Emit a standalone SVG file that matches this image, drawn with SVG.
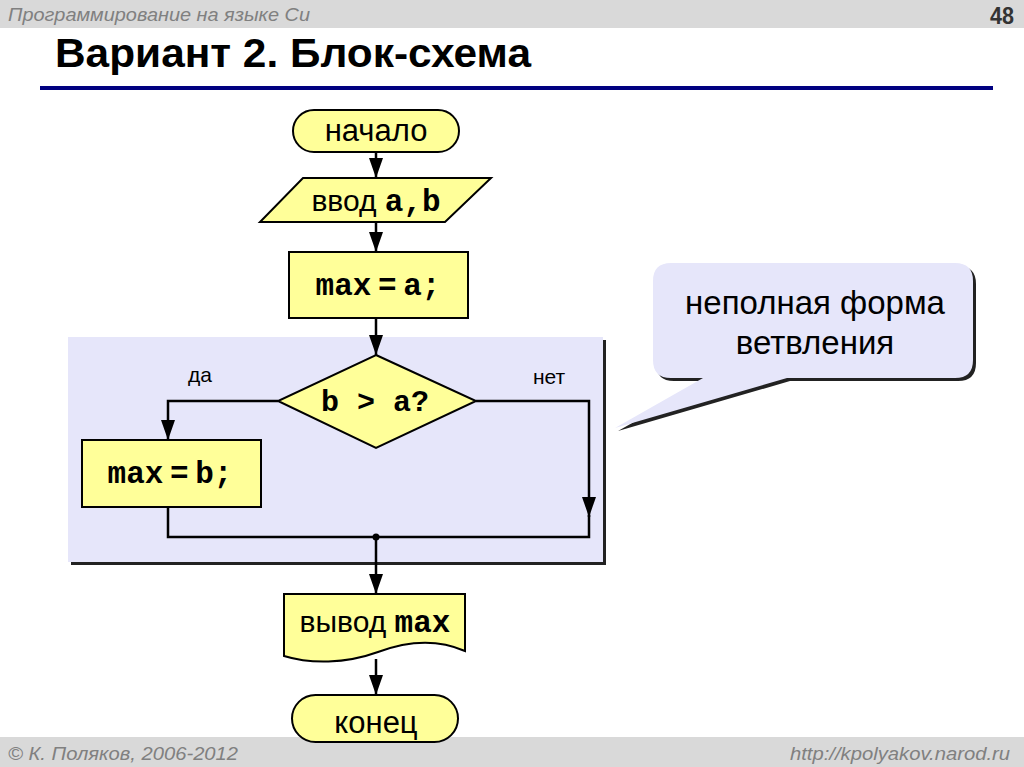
<svg xmlns="http://www.w3.org/2000/svg" width="1024" height="767" viewBox="0 0 1024 767">
<defs>
<style>
.yel{fill:#ffff99;stroke:#000;stroke-width:2}
.ln{fill:none;stroke:#000;stroke-width:2.5}
.sans{font-family:"Liberation Sans",Arial,sans-serif;fill:#000}
.mono{font-family:"Liberation Mono","Courier New",monospace;font-weight:bold;fill:#000}
.hdr{font-family:"Liberation Sans Narrow","Liberation Sans",Arial,sans-serif;font-style:italic;fill:#808080;font-size:19px}
</style>
<marker id="ah" markerWidth="20" markerHeight="14" refX="20" refY="7" orient="auto" markerUnits="userSpaceOnUse" viewBox="0 0 20 14">
<path d="M0,0 L20,7 L0,14 Z" fill="#000"/>
</marker>
</defs>
<rect width="1024" height="767" fill="#fff"/>
<rect x="0" y="0" width="1024" height="28" fill="#d9d9d9"/>
<rect x="0" y="737" width="1024" height="30" fill="#d9d9d9"/>
<text class="hdr" x="8" y="21" textLength="302" lengthAdjust="spacingAndGlyphs">Программирование на языке Си</text>
<text x="1014" y="24" text-anchor="end" font-family="Liberation Sans Narrow,Liberation Sans,Arial,sans-serif" font-weight="bold" font-size="23" fill="#333" textLength="24" lengthAdjust="spacingAndGlyphs">48</text>
<text x="55" y="67" font-family="Liberation Sans Narrow,Liberation Sans,Arial,sans-serif" font-weight="bold" font-size="40" fill="#000" textLength="476" lengthAdjust="spacingAndGlyphs">Вариант 2. Блок-схема</text>
<rect x="40" y="86" width="953" height="4" fill="#000080"/>
<text class="hdr" x="8" y="760" textLength="230" lengthAdjust="spacingAndGlyphs">© К. Поляков, 2006-2012</text>
<text class="hdr" x="790" y="760" textLength="220" lengthAdjust="spacingAndGlyphs">http://kpolyakov.narod.ru</text>

<g id="region">
<rect x="71" y="340" width="535" height="225" fill="#222"/>
<rect x="68" y="337" width="535" height="225" fill="#e6e6fa"/>
</g>

<g id="callout">
<path transform="translate(3,3)" d="M671,263 H955 Q973,263 973,281 V360 Q973,378 955,378 H787 L615,428 L703,378 H671 Q653,378 653,360 V281 Q653,263 671,263 Z" fill="#222"/>
<path d="M671,263 H955 Q973,263 973,281 V360 Q973,378 955,378 H787 L615,428 L703,378 H671 Q653,378 653,360 V281 Q653,263 671,263 Z" fill="#e6e6fa"/>
<text class="sans" x="815" y="314" font-size="33" text-anchor="middle">неполная форма</text>
<text class="sans" x="815" y="354" font-size="33" text-anchor="middle">ветвления</text>
</g>

<g id="connectors">
<line class="ln" x1="376" y1="152" x2="376" y2="178" marker-end="url(#ah)"/>
<line class="ln" x1="376" y1="222" x2="376" y2="252" marker-end="url(#ah)"/>
<line class="ln" x1="376" y1="318" x2="376" y2="355" marker-end="url(#ah)"/>
<polyline class="ln" points="278,401 168,401 168,440" marker-end="url(#ah)"/>
<polyline class="ln" points="476,401 589,401 589,517" marker-end="url(#ah)"/>
<polyline class="ln" points="589,515 589,537 168,537 168,507"/>
<circle cx="376" cy="537" r="3.5" fill="#000"/>
<line class="ln" x1="376" y1="537" x2="376" y2="594" marker-end="url(#ah)"/>
<line class="ln" x1="376" y1="659" x2="376" y2="695" marker-end="url(#ah)"/>
<text class="sans" x="200" y="382" font-size="21" text-anchor="middle">да</text>
<text class="sans" x="549" y="384" font-size="21" text-anchor="middle">нет</text>
</g>

<g id="start">
<rect class="yel" x="293" y="110" width="166" height="42" rx="21"/>
<text class="sans" x="376" y="141" font-size="31" text-anchor="middle">начало</text>
</g>

<g id="input">
<polygon class="yel" points="303,178 491,178 445,222 260,222"/>
<text x="376" y="211" text-anchor="middle"><tspan class="sans" font-size="30">ввод </tspan><tspan class="mono" font-size="31">a,b</tspan></text>
</g>

<g id="assign-a">
<rect class="yel" x="289" y="252" width="179" height="66"/>
<text class="mono" x="378" y="295" font-size="31" text-anchor="middle" word-spacing="-12">max = a;</text>
</g>

<g id="decision">
<polygon class="yel" points="376,355 476,401 376,448 278,401"/>
<text class="mono" x="375" y="411" font-size="30" text-anchor="middle">b &gt; a?</text>
</g>

<g id="assign-b">
<rect class="yel" x="82" y="440" width="179" height="67"/>
<text class="mono" x="170" y="483" font-size="31" text-anchor="middle" word-spacing="-12">max = b;</text>
</g>

<g id="output">
<path class="yel" d="M284,594 H465 V651 C440,640 410,640 378,652 C345,664 310,664 284,656 Z"/>
<text x="375" y="632" text-anchor="middle"><tspan class="sans" font-size="30">вывод </tspan><tspan class="mono" font-size="31">max</tspan></text>
</g>

<g id="end">
<rect class="yel" x="292" y="695" width="166" height="47" rx="23.5"/>
<text class="sans" x="376" y="733" font-size="31" text-anchor="middle">конец</text>
</g>
</svg>
